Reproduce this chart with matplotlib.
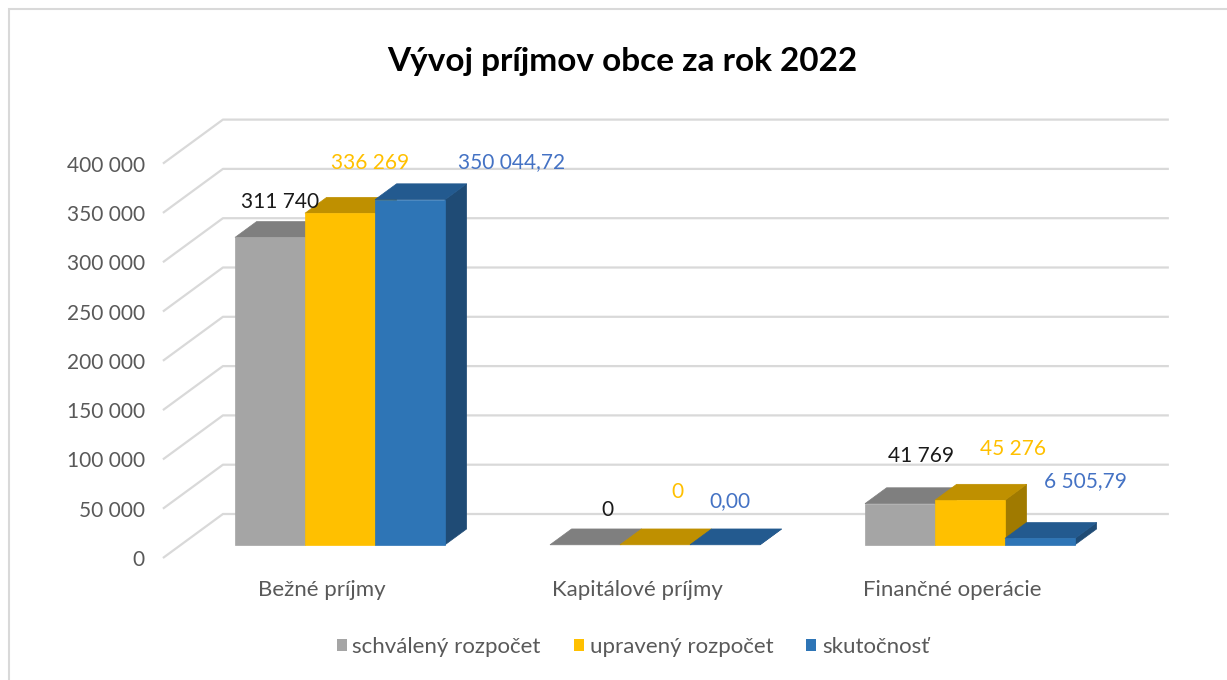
import matplotlib
matplotlib.use("Agg")
import matplotlib.pyplot as plt
from matplotlib.patches import Polygon, Patch, Rectangle

plt.rcParams['font.family'] = ['Lato', 'DejaVu Sans']

#### Data #####

categories = ['Bežné príjmy', 'Kapitálové príjmy', 'Finančné operácie']
series_names = ['schválený rozpočet', 'upravený rozpočet', 'skutočnosť']
schvaleny = [311740, 0, 41769]
upraveny = [336269, 0, 45276]
skutocnost = [350044.72, 0.00, 6505.79]
decimals = [0, 0, 2]
y_ticks = [0, 50000, 100000, 150000, 200000, 250000, 300000, 350000, 400000]

series = [schvaleny, upraveny, skutocnost]

#### Style #####

front_colors = ['#A5A5A5', '#FFC000', '#2E75B6']
top_colors = ['#7F7F7F', '#BF9000', '#235A8F']
side_colors = ['#6E6E6E', '#A07A00', '#1F4B75']
label_colors = ['#1A1A1A', '#FFC000', '#4472C4']
text_gray = '#595959'
grid_gray = '#D9D9D9'

# label offsets (pixels) from the back-top centre of each bar, [series][category]
label_offsets = [
    [(-12, 20), (1, 19), (-1, 32)],
    [(8, 34), (1, 37), (21, 35)],
    [(80, 22), (-17, 28), (24, 41)],
]

W, H = 1227, 680
X0, CAT = 322, 315          # pixel of category 0 at front, pixels per category
Y0, K = 558, 49.3 / 50000   # pixel of value 0 at front, pixels per unit
DX = 60 / CAT               # full floor depth, data units
DY = 44 / K
D0, D1 = 0.3, 0.66          # bar depth range
BW = 2 / 9                  # bar width


def fmt(v, nd):
    s = f"{v:,.{nd}f}"
    return s.replace(',', ' ').replace('.', ',')


fig = plt.figure(figsize=(W / 100, H / 100), dpi=100)
ax = fig.add_axes([0, 0, 1, 1])
ax.set_xlim(-X0 / CAT, (W - X0) / CAT)
ax.set_ylim((Y0 - H) / K, Y0 / K)
ax.axis('off')

# chart border
fig.patches.append(Rectangle((9 / W, -0.1), 1.2, 1.1 - 9 / H, transform=fig.transFigure,
                             fill=False, edgecolor=grid_gray, lw=1.5))

# gridlines: left floor diagonal + back wall
xl_wall, xr_wall = -0.505, 2.498
for v in y_ticks:
    ax.plot([xl_wall, xl_wall + DX, xr_wall + DX], [v, v + DY, v + DY],
            color=grid_gray, lw=1.6, zorder=0.5, solid_capstyle='butt')
    ax.annotate(fmt(v, 0), xy=(xl_wall, v), xytext=(-18, -2), textcoords='offset pixels',
                ha='right', va='center', fontsize=15, color=text_gray)

# bars
z = 1
for i in range(len(categories)):
    for j, vals in enumerate(series):
        v = vals[i]
        xl = i - 1 / 3 + j * BW
        xr = xl + BW
        side = [(xr + D0 * DX, D0 * DY), (xr + D1 * DX, D1 * DY),
                (xr + D1 * DX, v + D1 * DY), (xr + D0 * DX, v + D0 * DY)]
        top = [(xl + D0 * DX, v + D0 * DY), (xr + D0 * DX, v + D0 * DY),
               (xr + D1 * DX, v + D1 * DY), (xl + D1 * DX, v + D1 * DY)]
        ax.add_patch(Polygon(side, closed=True, facecolor=side_colors[j],
                             edgecolor=side_colors[j], lw=0.5, zorder=z))
        ax.add_patch(Polygon(top, closed=True, facecolor=top_colors[j],
                             edgecolor=top_colors[j], lw=0.5, zorder=z + 0.1))
        if v > 0:
            ax.bar(xl + D0 * DX, v, width=BW, bottom=D0 * DY, align='edge',
                   color=front_colors[j], edgecolor=front_colors[j], lw=0.5, zorder=z + 0.2)
        z += 1

        xc = (xl + xr) / 2 + D1 * DX
        ax.annotate(fmt(v, decimals[j]), xy=(xc, v + D1 * DY), xytext=label_offsets[j][i],
                    textcoords='offset pixels', ha='center', va='center',
                    fontsize=15, color=label_colors[j], zorder=50)

# category labels
for i, c in enumerate(categories):
    ax.annotate(c, xy=(i, 0), xytext=(0, -32), textcoords='offset pixels',
                ha='center', va='center', fontsize=16, color=text_gray)

fig.text(622 / W, 1 - 61 / H, 'Vývoj príjmov obce za rok 2022', ha='center', va='center',
         fontsize=24, fontweight='bold', color='#000000')

handles = [Patch(facecolor=front_colors[j], edgecolor='none') for j in range(3)]
fig.legend(handles, series_names, loc='center', bbox_to_anchor=(633 / W, 1 - 647 / H),
           ncol=3, frameon=False, fontsize=16, labelcolor=text_gray,
           handlelength=0.45, handleheight=0.45, handletextpad=0.25, columnspacing=1.5)

fig.savefig('out.png', dpi=100)
